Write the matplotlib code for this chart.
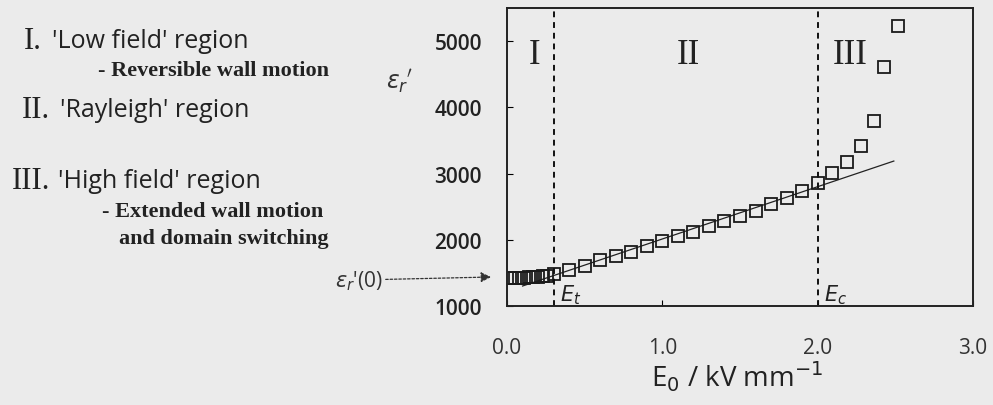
import matplotlib
matplotlib.use("Agg")
import matplotlib.pyplot as plt

# field amplitude (kV/mm) and measured permittivity
field = [0.02, 0.05, 0.08, 0.11, 0.14, 0.17, 0.20, 0.23, 0.26, 0.30,
         0.40, 0.50, 0.60, 0.70, 0.80, 0.90, 1.00, 1.10, 1.20, 1.30,
         1.40, 1.50, 1.60, 1.70, 1.80, 1.90, 2.00,
         2.09, 2.19, 2.28, 2.36, 2.43, 2.52]
eps = [1420, 1422, 1425, 1428, 1432, 1436, 1440, 1447, 1455, 1480,
       1543, 1600, 1690, 1760, 1820, 1905, 1985, 2052, 2121, 2205,
       2287, 2363, 2438, 2535, 2626, 2735, 2852,
       3008, 3174, 3415, 3792, 4607, 5226]

# Rayleigh fit line endpoints
fit_x = [0.10, 2.49]
fit_y = [1302, 3189]

# region boundaries
e_t = 0.30
e_c = 2.00

bg = "#ebebeb"
fig = plt.figure(figsize=(9.93, 4.06), dpi=100, facecolor=bg)
ax = fig.add_axes([0.5106, 0.2438, 0.4693, 0.734])
ax.set_facecolor(bg)

ax.plot(fit_x, fit_y, color="#222222", lw=0.9)
ax.plot(field, eps, ls="none", marker="s", ms=9, mfc="none", mec="#1a1a1a", mew=1.3)
ax.axvline(e_t, color="#111111", ls=(0, (3, 2.5)), lw=1.4)
ax.axvline(e_c, color="#111111", ls=(0, (3, 2.5)), lw=1.4)

ax.set_xlim(0, 3.0)
ax.set_ylim(1000, 5500)
ax.set_xticks([0, 1, 2, 3])
ax.set_xticklabels(["0.0", "1.0", "2.0", "3.0"])
ax.set_yticks([1000, 2000, 3000, 4000, 5000])
ax.tick_params(axis="x", direction="in", length=4, pad=22, labelsize=15,
               labelcolor="#333333")
ax.tick_params(axis="y", direction="in", length=4, pad=18, labelsize=15,
               labelcolor="#222222")
for lab in ax.get_xticklabels() + ax.get_yticklabels():
    lab.set_fontfamily("Open Sans")
for lab in ax.get_yticklabels():
    lab.set_fontweight("semibold")
for s in ax.spines.values():
    s.set_linewidth(1.4)
    s.set_color("#222222")

serif = "Liberation Serif"
sans = "Open Sans"

# region numerals inside the plot
for xr, txt in [(0.18, "I"), (1.17, "II"), (2.21, "III")]:
    ax.text(xr, 4800, txt, fontsize=25, family=serif, ha="center", va="center",
            color="#222222")
ax.text(e_t + 0.04, 1080, r"$E_t$", fontsize=15, color="#222222")
ax.text(e_c + 0.04, 1080, r"$E_c$", fontsize=15, color="#222222")

fig.text(0.742, 0.071, r"E$_0$ / kV mm$^{-1}$", fontsize=20, family=sans,
         ha="center", va="center", color="#222222")
fig.text(0.402, 0.80, r"$\varepsilon_r$$'$", fontsize=17, ha="center",
         va="center", color="#333333")

# epsilon_r'(0) arrow
ax.annotate(r"$\varepsilon_r$'(0)", xy=(491, 406 - 278), xycoords="figure pixels",
            xytext=(335, 406 - 281), textcoords="figure pixels",
            fontsize=15, family=sans, va="center", color="#333333",
            arrowprops=dict(arrowstyle="-|>", color="#333333", lw=0.9,
                            ls=(0, (2, 1.5)), shrinkA=0, shrinkB=0))

# left-side description
left = [
    (0.024, 0.897, "I.", 0.052, "'Low field' region"),
    (0.022, 0.729, "II.", 0.060, "'Rayleigh' region"),
    (0.012, 0.552, "III.", 0.058, "'High field' region"),
]
for xn, yn, num, xt, txt in left:
    fig.text(xn, yn, num, fontsize=22, family=serif, va="center", color="#222222")
    fig.text(xt, yn, txt, fontsize=18, family=sans, va="center", color="#222222")

subs = [
    (0.331, 0.825, "- Reversible wall motion"),
    (0.326, 0.478, "- Extended wall motion"),
    (0.331, 0.411, "and domain switching"),
]
for xs, ys, txt in subs:
    fig.text(xs, ys, txt, fontsize=16, family=serif, weight="bold",
             ha="right", va="center", color="#222222")

fig.savefig("out.png", dpi=100, facecolor=bg)
